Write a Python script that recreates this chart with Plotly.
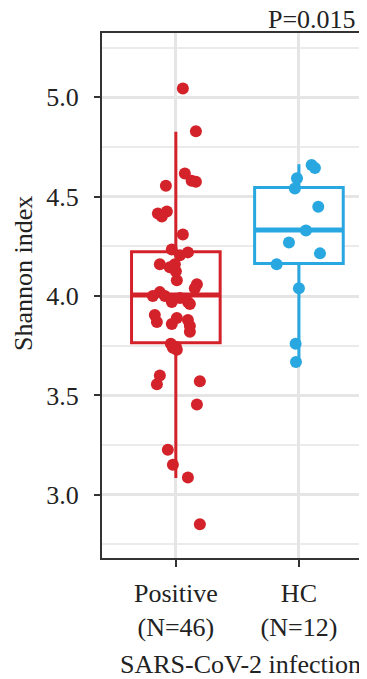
import plotly.graph_objects as go

# ---- data ----
groups = ["Positive", "HC"]
group_labels = ["Positive<br>(N=46)", "HC<br>(N=12)"]

positive_values = [5.045, 4.829, 4.617, 4.58, 4.575, 4.555, 4.426, 4.416, 4.40, 4.31,
                   4.235, 4.22, 4.205, 4.16, 4.16, 4.145, 4.125, 4.08, 4.06, 4.04,
                   4.02, 4.00, 3.99, 3.97, 3.97, 3.96, 3.905, 3.89, 3.88, 3.87,
                   3.86, 3.82, 3.76, 3.745, 3.74, 3.73, 3.60, 3.572, 3.556, 3.455,
                   3.227, 3.151, 3.087, 2.852, 4.00, 3.85]
positive_jitter = [0.057, 0.163, 0.073, 0.128, 0.163, -0.081, -0.073, -0.146, -0.114, 0.057,
                   -0.033, 0.098, 0.033, -0.13, -0.008, -0.049, 0.0, 0.008, 0.171, 0.154,
                   -0.13, -0.187, 0.033, -0.033, 0.098, 0.114, -0.171, 0.008, 0.098, -0.154,
                   -0.033, 0.114, -0.041, 0.0, -0.024, 0.008, -0.13, 0.195, -0.154, 0.171,
                   -0.065, -0.024, 0.098, 0.195, -0.089, 0.114]

hc_values = [4.66, 4.645, 4.593, 4.542, 4.45, 4.33, 4.27, 4.215, 4.16, 4.04, 3.76, 3.668]
hc_jitter = [0.103, 0.130, -0.016, -0.033, 0.157, 0.057, -0.081, 0.171, -0.181, 0.0, -0.027, -0.024]

# box statistics (as drawn in the reference)
q1 = [3.765, 4.164]
median = [4.005, 4.333]
q3 = [4.223, 4.547]
lowerfence = [3.084, 3.668]
upperfence = [4.827, 4.663]

p_value_text = "P=0.015"
y_title = "Shannon index"
x_title = "SARS-CoV-2 infection"

colors = ["#D3222A", "#28A7E0"]
BOX_W = 0.72
FONT = "Liberation Serif, Times New Roman, serif"
TXT = "#222222"

fig = go.Figure()

for i in range(2):
    fig.add_trace(go.Box(
        x=[i], q1=[q1[i]], median=[median[i]], q3=[q3[i]],
        lowerfence=[lowerfence[i]], upperfence=[upperfence[i]],
        width=BOX_W, whiskerwidth=0, fillcolor="white",
        line=dict(color=colors[i], width=3),
        boxpoints=False, hoverinfo="skip", showlegend=False,
    ))
    # thicker median bar
    fig.add_trace(go.Scatter(
        x=[i - BOX_W / 2, i + BOX_W / 2], y=[median[i], median[i]],
        mode="lines", line=dict(color=colors[i], width=5),
        hoverinfo="skip", showlegend=False,
    ))

for i, (vals, jit) in enumerate([(positive_values, positive_jitter), (hc_values, hc_jitter)]):
    fig.add_trace(go.Scatter(
        x=[i + j for j in jit], y=vals, mode="markers",
        marker=dict(color=colors[i], size=12, line=dict(width=0)),
        showlegend=False, hoverinfo="y",
    ))

# the page body has an 8px margin, so the figure is 8px smaller and shifted
fig.update_layout(
    width=359, height=671,
    margin=dict(l=94, r=0, t=25, b=121),
    paper_bgcolor="white", plot_bgcolor="white",
    font=dict(family=FONT, size=26, color=TXT),
    showlegend=False,
)

fig.update_xaxes(
    range=[-0.6, 1.553],
    tickmode="array", tickvals=[0, 1], ticktext=group_labels,
    showgrid=True, gridcolor="#e5e5e5", gridwidth=2.5,
    showline=True, linecolor="#333333", linewidth=2, mirror=True,
    ticks="outside", ticklen=7, tickwidth=2, tickcolor="#333333",
    tickfont=dict(family=FONT, size=26, color=TXT),
    zeroline=False,
    ticklabelstandoff=4,
)

fig.update_yaxes(
    range=[2.682, 5.324],
    tickmode="array", tickvals=[3.0, 3.5, 4.0, 4.5, 5.0],
    ticktext=["3.0", "3.5", "4.0", "4.5", "5.0"],
    showgrid=True, gridcolor="#e5e5e5", gridwidth=2.5,
    minor=dict(tickmode="array", tickvals=[2.75, 3.25, 3.75, 4.25, 4.75, 5.25],
               showgrid=True, gridcolor="#ebebeb", gridwidth=2, ticks=""),
    showline=True, linecolor="#333333", linewidth=2, mirror=False,
    ticks="outside", ticklen=6, tickwidth=2, tickcolor="#333333",
    tickfont=dict(family=FONT, size=26, color=TXT),
    zeroline=False,
    ticklabelstandoff=10,
)

fig.add_annotation(text=y_title, xref="paper", yref="paper",
                   x=(23 - 102) / 265, y=(558 - 274) / 525,
                   xanchor="center", yanchor="middle", textangle=-90,
                   showarrow=False, font=dict(family=FONT, size=26, color=TXT))
fig.add_annotation(text=x_title, xref="paper", yref="paper",
                   x=(240 - 102) / 265, y=(558 - 664) / 525,
                   xanchor="center", yanchor="middle",
                   showarrow=False, font=dict(family=FONT, size=26, color=TXT))
fig.add_annotation(text=p_value_text, xref="paper", yref="paper",
                   x=(358 - 102) / 265, y=(558 - 19) / 525,
                   xanchor="right", yanchor="middle",
                   showarrow=False, font=dict(family=FONT, size=26, color=TXT))

fig.write_html("out.html")
